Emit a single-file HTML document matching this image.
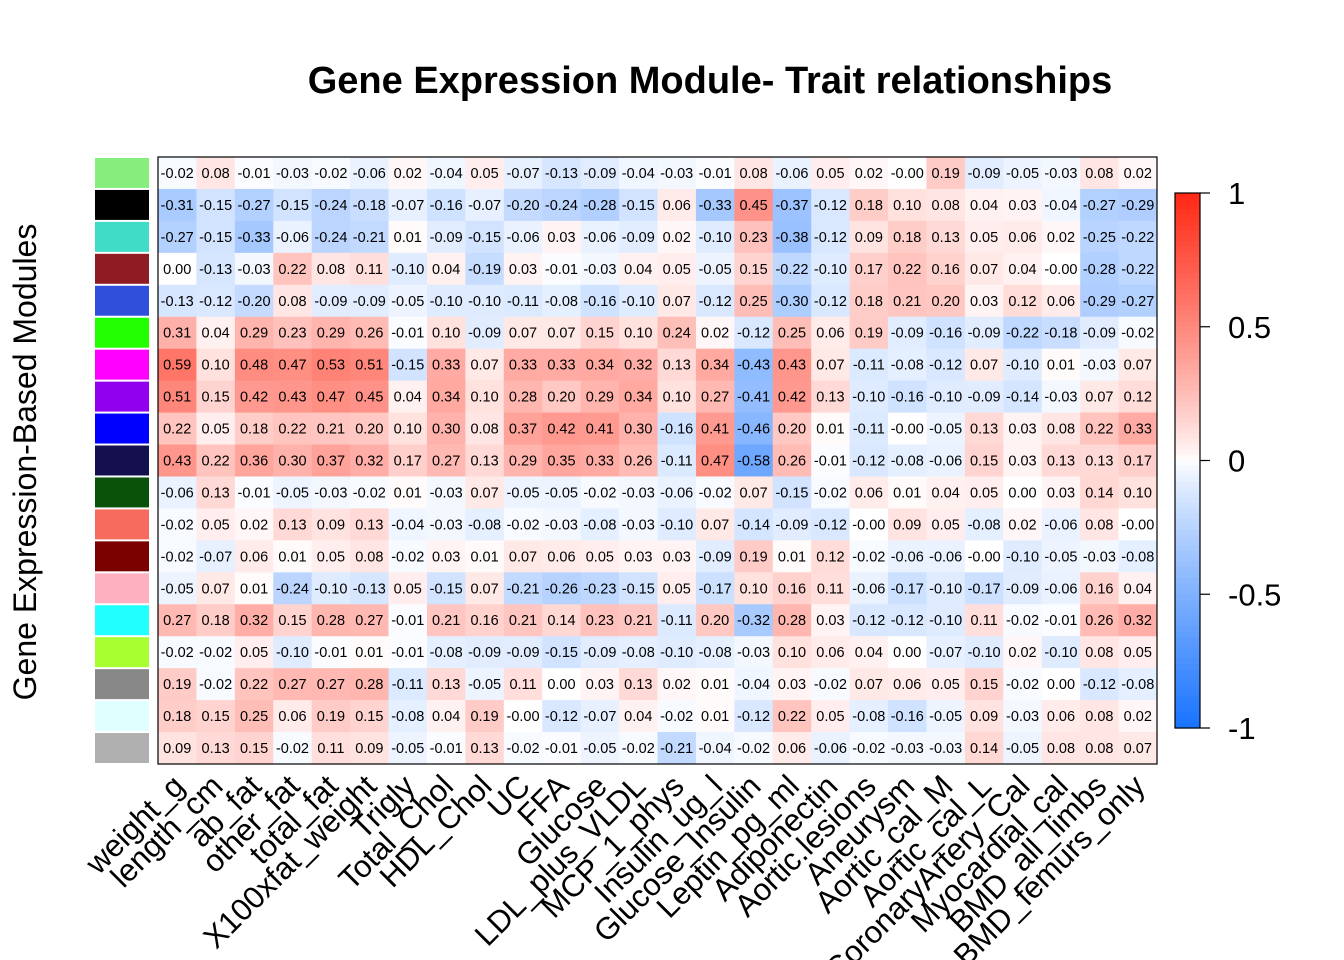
<!DOCTYPE html>
<html><head><meta charset="utf-8">
<style>
html,body{margin:0;padding:0;background:#fff;}
svg{display:block;font-family:"Liberation Sans",Arial,sans-serif;}
</style></head>
<body>
<svg id="chart" width="1344" height="960" viewBox="0 0 1344 960" xmlns="http://www.w3.org/2000/svg">
<text x="710" y="93" text-anchor="middle" font-size="38" font-weight="bold">Gene Expression Module- Trait relationships</text>
<text transform="translate(36,462) rotate(-90)" text-anchor="middle" font-size="32">Gene Expression-Based Modules</text>
<g id="cells"></g>
<g id="swatches"></g>
<g id="xlabels"></g>
<rect x="158" y="157" width="999" height="607" fill="none" stroke="#000" stroke-width="1.2"/>
<g id="legend"></g>
</svg>
<script>
const traits = ["weight_g","length_cm","ab_fat","other_fat","total_fat","X100xfat_weight","Trigly","Total_Chol","HDL_Chol","UC","FFA","Glucose","LDL_plus_VLDL","MCP_1_phys","Insulin_ug_l","Glucose_Insulin","Leptin_pg_ml","Adiponectin","Aortic.lesions","Aneurysm","Aortic_cal_M","Aortic_cal_L","CoronaryArtery_Cal","Myocardial_cal","BMD_all_limbs","BMD_femurs_only"];
const modules = ["lightgreen","black","turquoise","brown","royalblue","green","magenta","purple","blue","midnightblue","darkgreen","salmon","darkred","pink","cyan","greenyellow","grey60","lightcyan","grey"];
const moduleColors = ["#86ee7d","#000000","#40dcc8","#8f1c22","#3050dc","#22ff00","#ff00ff","#9000ee","#0000ff","#141050","#0a520a","#f76b5f","#7b0000","#ffb0c0","#22ffff","#a8ff2f","#888888","#e0ffff","#b0b0b0"];
const r1 = [-0.02,0.08,-0.01,-0.03,-0.02,-0.06,0.02,-0.04,0.05,-0.07,-0.13,-0.09,-0.04,-0.03,-0.01,0.08,-0.06,0.05,0.02,-0.00,0.19,-0.09,-0.05,-0.03,0.08,0.02];
const r2 = [-0.31,-0.15,-0.27,-0.15,-0.24,-0.18,-0.07,-0.16,-0.07,-0.20,-0.24,-0.28,-0.15,0.06,-0.33,0.45,-0.37,-0.12,0.18,0.10,0.08,0.04,0.03,-0.04,-0.27,-0.29];
const r3 = [-0.27,-0.15,-0.33,-0.06,-0.24,-0.21,0.01,-0.09,-0.15,-0.06,0.03,-0.06,-0.09,0.02,-0.10,0.23,-0.38,-0.12,0.09,0.18,0.13,0.05,0.06,0.02,-0.25,-0.22];
const r4 = [0.00,-0.13,-0.03,0.22,0.08,0.11,-0.10,0.04,-0.19,0.03,-0.01,-0.03,0.04,0.05,-0.05,0.15,-0.22,-0.10,0.17,0.22,0.16,0.07,0.04,-0.00,-0.28,-0.22];
const r5 = [-0.13,-0.12,-0.20,0.08,-0.09,-0.09,-0.05,-0.10,-0.10,-0.11,-0.08,-0.16,-0.10,0.07,-0.12,0.25,-0.30,-0.12,0.18,0.21,0.20,0.03,0.12,0.06,-0.29,-0.27];
const r6 = [0.31,0.04,0.29,0.23,0.29,0.26,-0.01,0.10,-0.09,0.07,0.07,0.15,0.10,0.24,0.02,-0.12,0.25,0.06,0.19,-0.09,-0.16,-0.09,-0.22,-0.18,-0.09,-0.02];
const r7 = [0.59,0.10,0.48,0.47,0.53,0.51,-0.15,0.33,0.07,0.33,0.33,0.34,0.32,0.13,0.34,-0.43,0.43,0.07,-0.11,-0.08,-0.12,0.07,-0.10,0.01,-0.03,0.07];
const r8 = [0.51,0.15,0.42,0.43,0.47,0.45,0.04,0.34,0.10,0.28,0.20,0.29,0.34,0.10,0.27,-0.41,0.42,0.13,-0.10,-0.16,-0.10,-0.09,-0.14,-0.03,0.07,0.12];
const r9 = [0.22,0.05,0.18,0.22,0.21,0.20,0.10,0.30,0.08,0.37,0.42,0.41,0.30,-0.16,0.41,-0.46,0.20,0.01,-0.11,-0.00,-0.05,0.13,0.03,0.08,0.22,0.33];
const r10 = [0.43,0.22,0.36,0.30,0.37,0.32,0.17,0.27,0.13,0.29,0.35,0.33,0.26,-0.11,0.47,-0.58,0.26,-0.01,-0.12,-0.08,-0.06,0.15,0.03,0.13,0.13,0.17];
const r11 = [-0.06,0.13,-0.01,-0.05,-0.03,-0.02,0.01,-0.03,0.07,-0.05,-0.05,-0.02,-0.03,-0.06,-0.02,0.07,-0.15,-0.02,0.06,0.01,0.04,0.05,0.00,0.03,0.14,0.10];
const r12 = [-0.02,0.05,0.02,0.13,0.09,0.13,-0.04,-0.03,-0.08,-0.02,-0.03,-0.08,-0.03,-0.10,0.07,-0.14,-0.09,-0.12,-0.00,0.09,0.05,-0.08,0.02,-0.06,0.08,-0.00];
const r13 = [-0.02,-0.07,0.06,0.01,0.05,0.08,-0.02,0.03,0.01,0.07,0.06,0.05,0.03,0.03,-0.09,0.19,0.01,0.12,-0.02,-0.06,-0.06,-0.00,-0.10,-0.05,-0.03,-0.08];
const r14 = [-0.05,0.07,0.01,-0.24,-0.10,-0.13,0.05,-0.15,0.07,-0.21,-0.26,-0.23,-0.15,0.05,-0.17,0.10,0.16,0.11,-0.06,-0.17,-0.10,-0.17,-0.09,-0.06,0.16,0.04];
const r15 = [0.27,0.18,0.32,0.15,0.28,0.27,-0.01,0.21,0.16,0.21,0.14,0.23,0.21,-0.11,0.20,-0.32,0.28,0.03,-0.12,-0.12,-0.10,0.11,-0.02,-0.01,0.26,0.32];
const r16 = [-0.02,-0.02,0.05,-0.10,-0.01,0.01,-0.01,-0.08,-0.09,-0.09,-0.15,-0.09,-0.08,-0.10,-0.08,-0.03,0.10,0.06,0.04,0.00,-0.07,-0.10,0.02,-0.10,0.08,0.05];
const r17 = [0.19,-0.02,0.22,0.27,0.27,0.28,-0.11,0.13,-0.05,0.11,0.00,0.03,0.13,0.02,0.01,-0.04,0.03,-0.02,0.07,0.06,0.05,0.15,-0.02,0.00,-0.12,-0.08];
const r18 = [0.18,0.15,0.25,0.06,0.19,0.15,-0.08,0.04,0.19,-0.00,-0.12,-0.07,0.04,-0.02,0.01,-0.12,0.22,0.05,-0.08,-0.16,-0.05,0.09,-0.03,0.06,0.08,0.02];
const r19 = [0.09,0.13,0.15,-0.02,0.11,0.09,-0.05,-0.01,0.13,-0.02,-0.01,-0.05,-0.02,-0.21,-0.04,-0.02,0.06,-0.06,-0.02,-0.03,-0.03,0.14,-0.05,0.08,0.08,0.07];
const values = [r1,r2,r3,r4,r5,r6,r7,r8,r9,r10,r11,r12,r13,r14,r15,r16,r17,r18,r19];
const legendTicks = [1,0.5,0,-0.5,-1];
const legendTickLabels = ["1","0.5","0","-0.5","-1"];

const NS="http://www.w3.org/2000/svg";
const X0=158,X1=1157,Y0=157,Y1=764;
const cw=(X1-X0)/traits.length, ch=(Y1-Y0)/modules.length;
const xPos=i=>X0+i*cw, yPos=j=>Y0+j*ch;
function colorOf(v){
  v=Math.max(-1,Math.min(1,v));
  const t=Math.pow(Math.abs(v),0.85);
  const e=v>=0?[255,40,20]:[25,115,255];
  const c=[0,1,2].map(k=>Math.round(255+(e[k]-255)*t));
  return `rgb(${c[0]},${c[1]},${c[2]})`;
}
function mk(tag,attrs,parent){const e=document.createElementNS(NS,tag);for(const k in attrs)e.setAttribute(k,attrs[k]);parent.appendChild(e);return e;}
function fmt(v){const s=Math.abs(v).toFixed(2);return (v<0||Object.is(v,-0))?"-"+s:s;}

const cells=document.getElementById('cells');
values.forEach((row,j)=>{
  row.forEach((v,i)=>{
    const r=mk('rect',{x:xPos(i),y:yPos(j),width:cw+0.5,height:ch+0.5,fill:colorOf(v)},cells);
    
    
    const t=mk('text',{x:xPos(i)+cw/2,y:yPos(j)+ch/2+5,'text-anchor':'middle','font-size':'14.5'},cells);
    
    
    t.textContent=fmt(v);
  });
});
const sw=document.getElementById('swatches');
modules.forEach((m,j)=>{
  const r=mk('rect',{x:95,y:yPos(j)+1,width:54,height:ch-2,fill:moduleColors[j]},sw);
  
  
});
const xl=document.getElementById('xlabels');
traits.forEach((t,i)=>{
  const cx=xPos(i)+cw/2+9, cy=788;
  const e=mk('text',{x:cx,y:cy,'text-anchor':'end','font-size':'31',transform:`rotate(-45 ${cx} ${cy})`},xl);
  
  
  e.textContent=t;
});
const lg=document.getElementById('legend');
const LY0=193,LY1=728,LX=1175,LW=25;
const ly=v=>LY0+(1-v)/2*(LY1-LY0);
const N=100;
for(let k=0;k<N;k++){
  const v=1-2*(k+0.5)/N;
  const r=mk('rect',{x:LX,y:LY0+k*(LY1-LY0)/N,width:LW,height:(LY1-LY0)/N+0.6,fill:colorOf(v)},lg);
  
  
}
const lb=mk('rect',{x:LX,y:LY0,width:LW,height:LY1-LY0,fill:'none',stroke:'#000','stroke-width':1.2},lg);


legendTicks.forEach((v,k)=>{
  const l=mk('line',{x1:LX+LW,x2:LX+LW+10,y1:ly(v),y2:ly(v),stroke:'#000','stroke-width':1.2},lg);
  
  
  const t=mk('text',{x:1228,y:ly(v)+11,'font-size':'31'},lg);
  
  
  t.textContent=legendTickLabels[k];
});
</script>
</body></html>
